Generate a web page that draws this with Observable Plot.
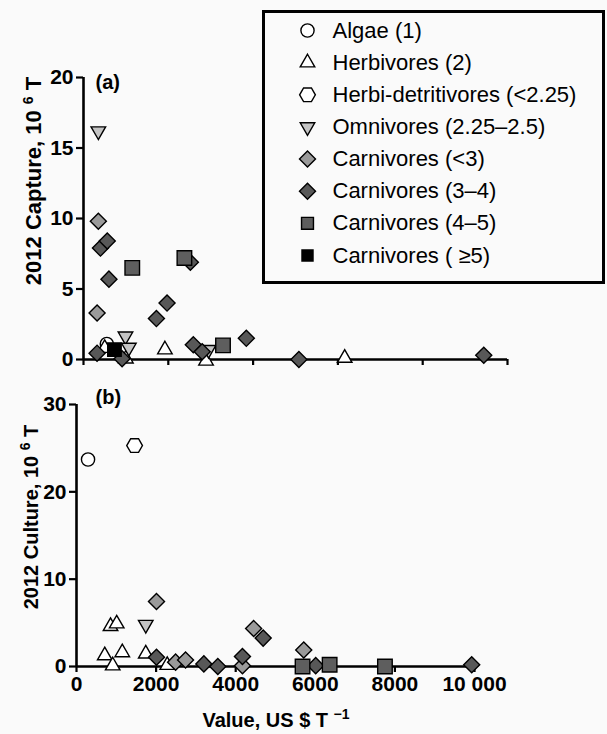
<!DOCTYPE html>
<html><head><meta charset="utf-8">
<script src="https://cdn.jsdelivr.net/npm/d3@7"></script>
<script src="https://cdn.jsdelivr.net/npm/@observablehq/plot@0.6"></script>
<style>
body{margin:0;background:#fafafa;}
#wrap{position:relative;width:607px;height:734px;background:#fafafa;font-family:"Liberation Sans",Arial,sans-serif;overflow:hidden}
#wrap svg{position:absolute;overflow:visible}
.ytitle{position:absolute;font-weight:bold;font-size:20px;white-space:nowrap;transform:translate(-50%,-50%) rotate(-90deg);color:#000}
.xtitle{position:absolute;font-weight:bold;font-size:20px;white-space:nowrap;transform:translate(-50%,-50%);color:#000}
sup{font-size:14px;vertical-align:8px;line-height:0}
#legbox{position:absolute;left:262px;top:10px;width:343px;height:274px;border:3px solid #000;box-sizing:border-box}
</style></head><body><div id="wrap"></div>
<script>
// ---------- data ----------
const groups = ["Algae (1)", "Herbivores (2)", "Herbi-detritivores (<2.25)", "Omnivores (2.25\u20132.5)",
  "Carnivores (<3)", "Carnivores (3\u20134)", "Carnivores (4\u20135)", "Carnivores ( \u22655)"];
const groupFill = ["#ffffff", "#ffffff", "#ffffff", "#c4c4c4", "#9a9a9a", "#585858", "#5e5e5e", "#000000"];
const groupSymbol = ["circle", "triangle", "hexagon", "triangle", "square", "square", "square", "square"];
const groupRotate = [0, 0, 90, 180, 45, 45, 0, 0];
const groupR = [6.6, 5.4, 6.8, 5.4, 6.4, 6.4, 8.2, 7.6];

// panel (a): 2012 capture
const captureGroup = [0, 1, 1, 1, 1, 1, 3, 3, 3, 3,
  4, 4, 5, 5, 5, 5, 5, 5, 5, 5, 5, 5, 5, 5, 5,
  6, 6, 6, 7];
const captureValue = [550, 500, 1000, 1920, 2890, 6160, 350, 990, 1070, 2950,
  350, 320, 400, 560, 600, 1720, 1970, 2520, 2590, 2800, 3840, 5080, 320, 910, 9440,
  1150, 2380, 3290, 730];
const captureTonnes = [1.1, 0.8, 0.05, 0.7, -0.1, 0.1, 16.2, 1.65, 0.85, 0.7,
  9.8, 3.3, 7.9, 8.4, 5.7, 2.9, 4.0, 6.9, 1.05, 0.55, 1.5, 0.0, 0.45, 0.05, 0.3,
  6.5, 7.2, 1.0, 0.7];

// panel (b): 2012 culture
const cultureGroup = [0, 2, 1, 1, 1, 1, 1, 1, 1, 3,
  4, 4, 4, 4, 4, 4,
  5, 5, 5, 5, 5, 5, 5,
  6, 6, 6];
const cultureValue = [290, 1460, 855, 1010, 710, 910, 1150, 1740, 2280, 1740,
  2010, 2490, 2740, 4170, 4450, 5710,
  2010, 3200, 3550, 4170, 4690, 6010, 9930,
  5680, 6360, 7750];
const cultureTonnes = [23.7, 25.3, 4.6, 4.9, 1.25, 0.1, 1.6, 1.45, 0.15, 4.8,
  7.45, 0.5, 0.75, 0.1, 4.35, 1.9,
  1.06, 0.3, 0.0, 1.15, 3.25, 0.1, 0.2,
  0.0, 0.2, 0.0];

const xTicks = [0, 2000, 4000, 6000, 8000, 10000];
const xTickLabels = ["0", "2000", "4000", "6000", "8000", "10 000"];
const captureTicks = [0, 5, 10, 15, 20];
const cultureTicks = [0, 10, 20, 30];

// ---------- build ----------
const wrap = document.getElementById("wrap");
const font = {fontFamily: "'Liberation Sans', Arial, sans-serif", fontSize: "21px", fontWeight: "bold", background: "transparent", color: "#000", overflow: "visible"};

function rows(gs, xs, ys) { return gs.map((g, i) => ({g, x: xs[i], y: ys[i]})); }
function dotMarks(data) {
  return groups.map((_, i) => Plot.dot(data.filter(d => d.g === i), {
    x: "x", y: "y", symbol: groupSymbol[i], r: groupR[i], rotate: groupRotate[i],
    fill: groupFill[i], stroke: "#000", strokeWidth: 1.4
  }));
}

// Panel (a)
const capData = rows(captureGroup, captureValue, captureTonnes);
const plotA = Plot.plot({
  width: 607, height: 380,
  marginLeft: 83, marginRight: 100, marginTop: 77, marginBottom: 21,
  style: font,
  x: {domain: [0, 10000]},
  y: {domain: [0, 20]},
  marks: [
    Plot.axisY({ticks: captureTicks, tickSize: 7, tickPadding: 3, strokeWidth: 2.2, label: null, fontSize: 21, fontWeight: "bold"}),
    Plot.axisX({ticks: xTicks, tickSize: 6, tickFormat: () => "", strokeWidth: 2.2, label: null}),
    Plot.ruleY([0], {x1: 0, x2: 10000, stroke: "#000", strokeWidth: 2.6}),
    Plot.ruleX([0], {y1: 0, y2: 20, stroke: "#000", strokeWidth: 2.6}),
    ...dotMarks(capData),
    Plot.text(["(a)"], {frameAnchor: "top-left", dx: 12, dy: 5, fontSize: 20, fontWeight: "bold", textAnchor: "start", lineAnchor: "middle"})
  ]
});
plotA.style.left = "0px"; plotA.style.top = "0px";
wrap.appendChild(plotA);

// Panel (b)
const culData = rows(cultureGroup, cultureValue, cultureTonnes);
const plotB = Plot.plot({
  width: 607, height: 354,
  marginLeft: 76, marginRight: 133, marginTop: 24, marginBottom: 68,
  style: font,
  x: {domain: [0, 10000]},
  y: {domain: [0, 30]},
  marks: [
    Plot.axisY({ticks: cultureTicks, tickSize: 7, tickPadding: 3, strokeWidth: 2.2, label: null, fontSize: 21, fontWeight: "bold"}),
    Plot.axisX({ticks: xTicks, tickSize: 6, tickPadding: 4, tickFormat: d => xTickLabels[xTicks.indexOf(d)], strokeWidth: 2.2, label: null, fontSize: 21, fontWeight: "bold"}),
    Plot.ruleY([0], {x1: 0, x2: 10000, stroke: "#000", strokeWidth: 2.6}),
    Plot.ruleX([0], {y1: 0, y2: 30, stroke: "#000", strokeWidth: 2.6}),
    ...dotMarks(culData),
    Plot.text(["(b)"], {frameAnchor: "top-left", dx: 19, dy: -7, fontSize: 20, fontWeight: "bold", textAnchor: "start", lineAnchor: "middle"})
  ]
});
plotB.style.left = "0px"; plotB.style.top = "380px";
wrap.appendChild(plotB);

// Legend
const legIdx = groups.map((g, i) => i);
const legend = Plot.plot({
  width: 343, height: 274, margin: 0,
  style: {fontFamily: "'Liberation Sans', Arial, sans-serif", fontSize: "22px", background: "transparent", color: "#000", overflow: "visible"},
  x: {domain: [0, 1], range: [45, 70], axis: null},
  y: {domain: [0, 7], range: [20, 245], axis: null},
  marks: [
    ...legIdx.map(i => Plot.dot([i], {x: () => 0, y: d => d, symbol: groupSymbol[i], r: groupR[i] * (i >= 6 ? 0.82 : 1), rotate: groupRotate[i], fill: groupFill[i], stroke: "#000", strokeWidth: 1.4})),
    Plot.text(legIdx, {x: () => 1, y: d => d, text: d => groups[d], textAnchor: "start", fontSize: 22})
  ]
});
legend.style.left = "262px"; legend.style.top = "10px";
wrap.appendChild(legend);
const box = document.createElement("div"); box.id = "legbox"; wrap.appendChild(box);

// Titles
function addTitle(cls, html, x, y, size) {
  const d = document.createElement("div"); d.className = cls; d.innerHTML = html;
  d.style.left = x + "px"; d.style.top = y + "px";
  if (size) d.style.fontSize = size + "px";
  wrap.appendChild(d);
}
addTitle("ytitle", "2012 Capture, 10 <sup>6</sup> T", 34, 181, 22);
addTitle("ytitle", "2012 Culture, 10 <sup>6</sup> T", 31, 517, 20);
addTitle("xtitle", "Value, US $ T <sup>\u22121</sup>", 276, 720);
</script></body></html>
